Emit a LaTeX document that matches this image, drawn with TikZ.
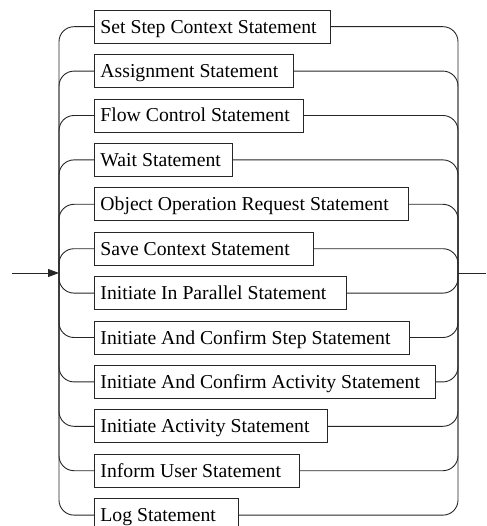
\documentclass[tikz,border=0pt]{standalone}
\usepackage{fontspec}
\setmainfont{Liberation Serif}
\usetikzlibrary{arrows.meta}
\newcommand{\stmttext}[2]{\makebox[#1pt][l]{#2}}
\begin{document}
\begin{tikzpicture}[x=1pt,y=-1pt,
  stmt/.style={draw=black!85, line width=0.9pt, anchor=west, minimum height=33pt,
    inner xsep=6pt, inner ysep=0pt, text height=16pt, text depth=3pt,
    font=\fontsize{19.7}{23}\selectfont},
  conn/.style={draw=black!85, line width=0.9pt, rounded corners=15pt}]
\useasboundingbox (0,0) rectangle (486,526);
\clip (0,0) rectangle (486,526);
\coordinate (in) at (12,273);
\coordinate (L) at (59,273);
\coordinate (R) at (458,273);
\coordinate (out) at (486,273);
\node[stmt] (s1) at (94,26.7) {\stmttext{224}{Set Step Context Statement}};
\node[stmt] (s2) at (94,71.1) {\stmttext{187}{Assignment Statement}};
\node[stmt] (s3) at (94,115.5) {\stmttext{197}{Flow Control Statement}};
\node[stmt] (s4) at (94,159.9) {\stmttext{126}{Wait Statement}};
\node[stmt] (s5) at (94,204.3) {\stmttext{302}{Object Operation Request Statement}};
\node[stmt] (s6) at (94,248.7) {\stmttext{207}{Save Context Statement}};
\node[stmt] (s7) at (94,293.1) {\stmttext{240}{Initiate In Parallel Statement}};
\node[stmt] (s8) at (94,337.5) {\stmttext{303}{Initiate And Confirm Step Statement}};
\node[stmt] (s9) at (94,381.9) {\stmttext{329}{Initiate And Confirm Activity Statement}};
\node[stmt] (s10) at (94,426.3) {\stmttext{221}{Initiate Activity Statement}};
\node[stmt] (s11) at (94,470.7) {\stmttext{193}{Inform User Statement}};
\node[stmt] (s12) at (94,515.1) {\stmttext{132}{Log Statement}};
\foreach \i in {1,...,12} {
  \draw[conn] (L) |- (s\i.west);
  \draw[conn] (s\i.east) -| (R);
}
\draw[draw=black!85, line width=0.9pt, -{Triangle[length=11pt,width=8pt]}] (in) -- (L);
\draw[draw=black!85, line width=0.9pt] (R) -- (out);
\end{tikzpicture}
\end{document}
